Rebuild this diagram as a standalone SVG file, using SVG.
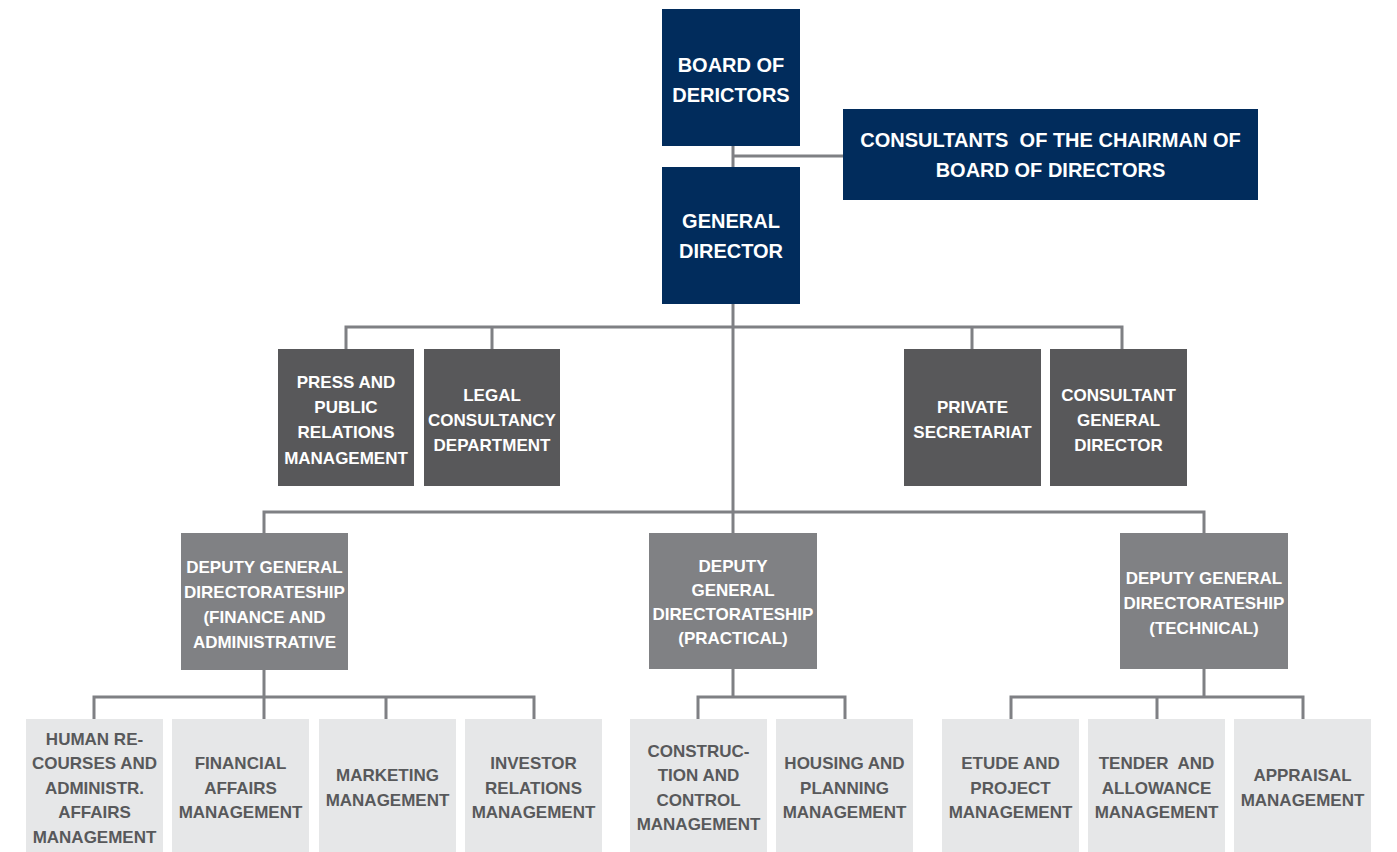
<svg xmlns="http://www.w3.org/2000/svg" width="1397" height="852" viewBox="0 0 1397 852">
<style>
.navy{fill:#012c5c}
.dark{fill:#58585a}
.mid{fill:#808184}
.light{fill:#e6e7e8}
text{font-family:"Liberation Sans",Arial,sans-serif;font-weight:bold;text-anchor:middle}
.t1{font-size:20px;fill:#ffffff}
.t2{font-size:17px;fill:#ffffff}
.t3{font-size:17px;fill:#58595b}
.conn{fill:none;stroke:#7f8084;stroke-width:3}
</style>
<rect width="1397" height="852" fill="#ffffff"/>
<g id="connectors" class="conn">
<path d="M733 146V167M733 156H843"/>
<path d="M733 304V533"/>
<path d="M346 349V327H1122V349M492 327V349M972 327V349"/>
<path d="M264 533V512H1204V533"/>
<path d="M264 669V697M94 719V697H534V719M264 697V719M386 697V719"/>
<path d="M733 669V697M698 719V697H845V719"/>
<path d="M1204 669V697M1011 719V697H1303V719M1157 697V719"/>
</g>
<g id="board">
<rect class="navy" x="662" y="9" width="138" height="137"/>
<text class="t1"><tspan x="731" y="72">BOARD OF</tspan><tspan x="731" y="102">DERICTORS</tspan></text>
</g>
<g id="consultants-chairman">
<rect class="navy" x="843" y="109" width="415" height="91"/>
<text class="t1" xml:space="preserve"><tspan x="1050.5" y="147">CONSULTANTS  OF THE CHAIRMAN OF</tspan><tspan x="1050.5" y="176.5">BOARD OF DIRECTORS</tspan></text>
</g>
<g id="general-director">
<rect class="navy" x="662" y="167" width="138" height="137"/>
<text class="t1"><tspan x="731" y="228">GENERAL</tspan><tspan x="731" y="258">DIRECTOR</tspan></text>
</g>
<g id="press">
<rect class="dark" x="278" y="349" width="136" height="137"/>
<text class="t2"><tspan x="346" y="388">PRESS AND</tspan><tspan x="346" y="413">PUBLIC</tspan><tspan x="346" y="438">RELATIONS</tspan><tspan x="346" y="463.5">MANAGEMENT</tspan></text>
</g>
<g id="legal">
<rect class="dark" x="424" y="349" width="136" height="137"/>
<text class="t2"><tspan x="492" y="400.5">LEGAL</tspan><tspan x="492" y="425.5">CONSULTANCY</tspan><tspan x="492" y="450.5">DEPARTMENT</tspan></text>
</g>
<g id="private">
<rect class="dark" x="904" y="349" width="137" height="137"/>
<text class="t2"><tspan x="972.5" y="413">PRIVATE</tspan><tspan x="972.5" y="438">SECRETARIAT</tspan></text>
</g>
<g id="consultant-gd">
<rect class="dark" x="1050" y="349" width="137" height="137"/>
<text class="t2"><tspan x="1118.5" y="400.5">CONSULTANT</tspan><tspan x="1118.5" y="425.5">GENERAL</tspan><tspan x="1118.5" y="450.5">DIRECTOR</tspan></text>
</g>
<g id="deputy-finance">
<rect class="mid" x="181" y="533" width="167" height="137"/>
<text class="t2"><tspan x="264.5" y="572.5">DEPUTY GENERAL</tspan><tspan x="264.5" y="597.5">DIRECTORATESHIP</tspan><tspan x="264.5" y="622.5">(FINANCE AND</tspan><tspan x="264.5" y="647.5">ADMINISTRATIVE</tspan></text>
</g>
<g id="deputy-practical">
<rect class="mid" x="649" y="533" width="168" height="136"/>
<text class="t2"><tspan x="733" y="572">DEPUTY</tspan><tspan x="733" y="596">GENERAL</tspan><tspan x="733" y="620">DIRECTORATESHIP</tspan><tspan x="733" y="644">(PRACTICAL)</tspan></text>
</g>
<g id="deputy-technical">
<rect class="mid" x="1120" y="533" width="168" height="136"/>
<text class="t2"><tspan x="1204" y="584">DEPUTY GENERAL</tspan><tspan x="1204" y="609">DIRECTORATESHIP</tspan><tspan x="1204" y="634">(TECHNICAL)</tspan></text>
</g>
<g id="hr">
<rect class="light" x="26" y="719" width="137" height="133"/>
<text class="t3"><tspan x="94.5" y="744.5">HUMAN RE-</tspan><tspan x="94.5" y="769">COURSES AND</tspan><tspan x="94.5" y="793.5">ADMINISTR.</tspan><tspan x="94.5" y="818">AFFAIRS</tspan><tspan x="94.5" y="842.5">MANAGEMENT</tspan></text>
</g>
<g id="financial">
<rect class="light" x="172" y="719" width="137" height="133"/>
<text class="t3"><tspan x="240.5" y="769">FINANCIAL</tspan><tspan x="240.5" y="793.5">AFFAIRS</tspan><tspan x="240.5" y="818">MANAGEMENT</tspan></text>
</g>
<g id="marketing">
<rect class="light" x="319" y="719" width="137" height="133"/>
<text class="t3"><tspan x="387.5" y="781">MARKETING</tspan><tspan x="387.5" y="806">MANAGEMENT</tspan></text>
</g>
<g id="investor">
<rect class="light" x="465" y="719" width="137" height="133"/>
<text class="t3"><tspan x="533.5" y="769">INVESTOR</tspan><tspan x="533.5" y="793.5">RELATIONS</tspan><tspan x="533.5" y="818">MANAGEMENT</tspan></text>
</g>
<g id="construction">
<rect class="light" x="630" y="719" width="137" height="133"/>
<text class="t3"><tspan x="698.5" y="756.5">CONSTRUC-</tspan><tspan x="698.5" y="781">TION AND</tspan><tspan x="698.5" y="805.5">CONTROL</tspan><tspan x="698.5" y="830">MANAGEMENT</tspan></text>
</g>
<g id="housing">
<rect class="light" x="776" y="719" width="137" height="133"/>
<text class="t3"><tspan x="844.5" y="769">HOUSING AND</tspan><tspan x="844.5" y="793.5">PLANNING</tspan><tspan x="844.5" y="818">MANAGEMENT</tspan></text>
</g>
<g id="etude">
<rect class="light" x="942" y="719" width="137" height="133"/>
<text class="t3"><tspan x="1010.5" y="769">ETUDE AND</tspan><tspan x="1010.5" y="793.5">PROJECT</tspan><tspan x="1010.5" y="818">MANAGEMENT</tspan></text>
</g>
<g id="tender">
<rect class="light" x="1088" y="719" width="137" height="133"/>
<text class="t3" xml:space="preserve"><tspan x="1156.5" y="769">TENDER  AND</tspan><tspan x="1156.5" y="793.5">ALLOWANCE</tspan><tspan x="1156.5" y="818">MANAGEMENT</tspan></text>
</g>
<g id="appraisal">
<rect class="light" x="1234" y="719" width="137" height="133"/>
<text class="t3"><tspan x="1302.5" y="781">APPRAISAL</tspan><tspan x="1302.5" y="806">MANAGEMENT</tspan></text>
</g>
</svg>
